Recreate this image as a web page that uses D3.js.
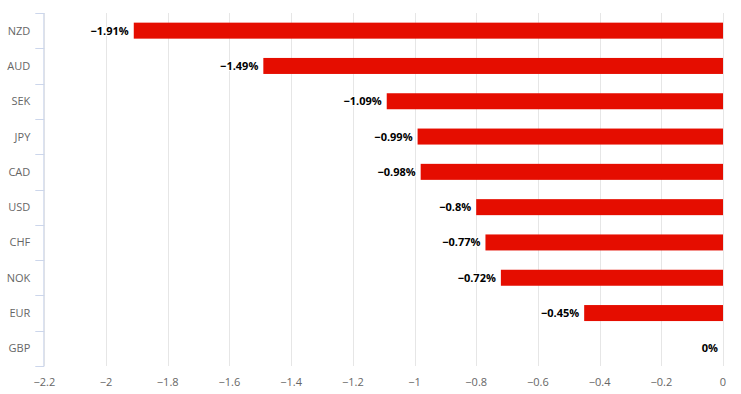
<!DOCTYPE html>
<html><head><meta charset="utf-8">
<script src="https://cdn.jsdelivr.net/npm/d3@7"></script>
<style>body{margin:0;background:#fff}svg{display:block}text{font-family:"Open Sans","DejaVu Sans",sans-serif}</style>
</head><body><svg id="c" width="741" height="394"></svg>
<script>
const categories=["NZD","AUD","SEK","JPY","CAD","USD","CHF","NOK","EUR","GBP"];
const values=[-1.91,-1.49,-1.09,-0.99,-0.98,-0.8,-0.77,-0.72,-0.45,0];
const labels=["−1.91%","−1.49%","−1.09%","−0.99%","−0.98%","−0.8%","−0.77%","−0.72%","−0.45%","0%"];
const xTicks=[-2.2,-2,-1.8,-1.6,-1.4,-1.2,-1,-0.8,-0.6,-0.4,-0.2,0];

(function(){
const svg=d3.select("#c");
const pLeft=44.3,pRight=723,pTop=13,pBottom=366;
const x=d3.scaleLinear().domain([-2.2,0]).range([pLeft,pRight]);
const y=d3.scaleBand().domain(categories).range([pTop,pBottom]).paddingInner(0).paddingOuter(0);

svg.append("g").selectAll("line").data(xTicks).join("line")
 .attr("x1",d=>Math.round(x(d))+0.5).attr("x2",d=>Math.round(x(d))+0.5)
 .attr("y1",pTop).attr("y2",pBottom).attr("stroke","#e6e6e6");

svg.append("g").selectAll("text").data(xTicks).join("text")
 .attr("x",d=>x(d)).attr("y",386).attr("text-anchor","middle")
 .attr("font-size",11).attr("fill","#666")
 .text(d=>d===0?"0":"−"+String(Math.abs(d)));

const ya=svg.append("g");
ya.append("line").attr("x1",pLeft-0.5).attr("x2",pLeft-0.5).attr("y1",pTop).attr("y2",pBottom).attr("stroke","#ccd6eb");
const bounds=categories.map(c=>y(c)).concat([pBottom]);
ya.selectAll("line.t").data(bounds).join("line").attr("class","t")
 .attr("x1",pLeft-9).attr("x2",pLeft).attr("y1",d=>Math.round(d)+0.5).attr("y2",d=>Math.round(d)+0.5).attr("stroke","#ccd6eb");
ya.selectAll("text").data(categories).join("text")
 .attr("x",pLeft-14).attr("y",d=>y(d)+y.bandwidth()/2+4).attr("text-anchor","end")
 .attr("font-size",11).attr("fill","#666").text(d=>d);

const bh=16;
svg.append("g").selectAll("rect").data(values).join("rect")
 .attr("x",d=>x(d)).attr("width",d=>x(0)-x(d))
 .attr("y",(d,i)=>y(categories[i])+y.bandwidth()/2-bh/2).attr("height",bh)
 .attr("fill","#e50d00");

svg.append("g").selectAll("text").data(values).join("text")
 .attr("x",d=>x(d)-5).attr("y",(d,i)=>y(categories[i])+y.bandwidth()/2+4)
 .attr("text-anchor","end").attr("font-size",11).attr("font-weight","bold")
 .attr("fill","#000").attr("stroke","#fff").attr("stroke-width",2).attr("paint-order","stroke")
 .text((d,i)=>labels[i]);
})();
</script></body></html>
